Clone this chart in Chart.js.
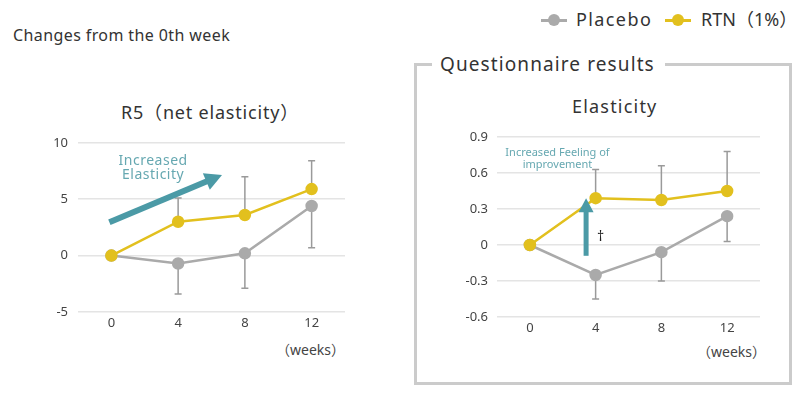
<!DOCTYPE html>
<html>
<head>
<meta charset="utf-8">
<script src="https://cdn.jsdelivr.net/npm/chart.js@4.4.1/dist/chart.umd.min.js"></script>
<style>
  body { margin: 0; background: #fff; font-family: "Noto Sans", "Noto Sans CJK JP", sans-serif; color: #333; }
  #page { position: relative; width: 800px; height: 393px; overflow: hidden; }
  .abs { position: absolute; white-space: nowrap; line-height: 1; }
  #caption { left: 13px; top: 27px; font-size: 16px; letter-spacing: 0.4px; color: #333; }
  .leg { font-size: 18px; color: #333; top: 10px; }
  .mark { position: absolute; width: 26px; height: 12px; top: 14px; }
  .mark::before { content: ""; position: absolute; left: 0; right: 0; top: 5px; height: 3px; background: var(--c); }
  .mark::after { content: ""; position: absolute; left: 7px; top: 0; width: 12px; height: 12px; border-radius: 50%; background: var(--c); }
  #box { left: 414px; top: 63px; width: 378px; height: 322px; border: 3px solid #cbcbcb; box-sizing: border-box; }
  #boxTitle { left: 432px; top: 55px; font-size: 19px; letter-spacing: 1.1px; background: #fff; padding: 0 10px 0 8px; color: #333; }
  .title { font-size: 18px; color: #333; }
  .weeks { font-size: 14px; color: #444; }
  canvas { position: absolute; }
</style>
</head>
<body>
<div id="page">
  <div id="caption" class="abs">Changes from the 0th week</div>
  <span class="mark" style="--c:#aaaaaa; left:541px;"></span>
  <span class="abs leg" style="left:576px; letter-spacing:1.4px;">Placebo</span>
  <span class="mark" style="--c:#e2c01e; left:665px;"></span>
  <span class="abs leg" style="left:701px;">RTN（1%）</span>
  <div id="box" class="abs"></div>
  <div id="boxTitle" class="abs">Questionnaire results</div>
  <div class="abs title" style="left:121px; top:103px; letter-spacing:0.8px;">R5（net elasticity）</div>
  <div class="abs title" style="left:572px; top:97px; letter-spacing:1.2px;">Elasticity</div>
  <div class="abs weeks" style="left:276px; top:343px;">（weeks）</div>
  <div class="abs weeks" style="left:697px; top:345px;">（weeks）</div>
  <canvas id="r5" width="400" height="240" style="left:0; top:125px;"></canvas>
  <canvas id="el" width="370" height="250" style="left:420px; top:115px;"></canvas>
</div>
<script>
var weeks = [0, 4, 8, 12];

// R5 (net elasticity)
var r5Placebo = [0, -0.7, 0.2, 4.4];
var r5PlaceboLow = [0, -3.4, -2.9, 0.7];
var r5Rtn = [0, 3.0, 3.6, 5.9];
var r5RtnHigh = [0, 5.1, 7.0, 8.4];
var r5Ticks = [-5, 0, 5, 10];

// Elasticity (questionnaire)
var elPlacebo = [0, -0.25, -0.06, 0.24];
var elPlaceboLow = [0, -0.45, -0.30, 0.03];
var elRtn = [0, 0.39, 0.375, 0.45];
var elRtnHigh = [0, 0.63, 0.66, 0.78];
var elTicks = [-0.6, -0.3, 0, 0.3, 0.6, 0.9];

var grayCol = '#aaaaaa';
var yellowCol = '#e2c01e';
var barCol = '#9a9a9a';
var arrowCol = '#4b9aa6';
var noteCol = '#66a8b1';
var font = '"Noto Sans", "Noto Sans CJK JP", sans-serif';

function pts(vals) {
  return weeks.map(function (w, i) { return { x: w, y: vals[i] }; });
}

function drawArrow(ctx, x1, y1, x2, y2, shaft, headW, headL) {
  var a = Math.atan2(y2 - y1, x2 - x1);
  var bx = x2 - Math.cos(a) * headL, by = y2 - Math.sin(a) * headL;
  ctx.save();
  ctx.strokeStyle = arrowCol;
  ctx.fillStyle = arrowCol;
  ctx.lineWidth = shaft;
  ctx.beginPath();
  ctx.moveTo(x1, y1);
  ctx.lineTo(bx + Math.cos(a) * 2, by + Math.sin(a) * 2);
  ctx.stroke();
  ctx.beginPath();
  ctx.moveTo(x2, y2);
  ctx.lineTo(bx + Math.sin(a) * headW / 2, by - Math.cos(a) * headW / 2);
  ctx.lineTo(bx - Math.sin(a) * headW / 2, by + Math.cos(a) * headW / 2);
  ctx.closePath();
  ctx.fill();
  ctx.restore();
}

var extras = {
  id: 'extras',
  beforeDatasetsDraw: function (chart, args, opts) {
    var ctx = chart.ctx, xs = chart.scales.x, ys = chart.scales.y;
    ctx.save();
    ctx.strokeStyle = barCol;
    ctx.lineWidth = 1.5;
    opts.bars.forEach(function (b) {
      weeks.forEach(function (w, i) {
        if (b.from[i] === b.to[i]) return;
        var px = xs.getPixelForValue(w);
        var y1 = ys.getPixelForValue(b.from[i]), y2 = ys.getPixelForValue(b.to[i]);
        ctx.beginPath();
        ctx.moveTo(px, y1);
        ctx.lineTo(px, y2);
        ctx.moveTo(px - 3.5, y2);
        ctx.lineTo(px + 3.5, y2);
        ctx.stroke();
      });
    });
    ctx.restore();
  },
  afterDatasetsDraw: function (chart, args, opts) {
    var ctx = chart.ctx, xs = chart.scales.x, ys = chart.scales.y;
    var ar = opts.arrow;
    drawArrow(ctx, xs.getPixelForValue(ar.x1), ys.getPixelForValue(ar.y1),
      xs.getPixelForValue(ar.x2), ys.getPixelForValue(ar.y2), ar.shaft, ar.headW, ar.headL);
    ctx.save();
    ctx.textAlign = 'center';
    ctx.textBaseline = 'middle';
    opts.notes.forEach(function (n) {
      ctx.fillStyle = n.color;
      ctx.font = n.size + 'px ' + font;
      ctx.letterSpacing = (n.ls || 0) + 'px';
      var px = xs.getPixelForValue(n.x), py = ys.getPixelForValue(n.y);
      n.lines.forEach(function (t, k) {
        ctx.fillText(t, px, py + k * n.lh);
      });
    });
    ctx.restore();
  }
};

function makeChart(id, placebo, placeboLow, rtn, rtnHigh, yTicks, yWidth, xHeight, padTop, padRight, ypad, fmt, arrow, notes) {
  return new Chart(document.getElementById(id), {
    type: 'line',
    data: {
      datasets: [
        { label: 'RTN (1%)', data: pts(rtn), borderColor: yellowCol, backgroundColor: yellowCol,
          borderWidth: 2.5, pointRadius: 5, pointHoverRadius: 5, order: 1 },
        { label: 'Placebo', data: pts(placebo), borderColor: grayCol, backgroundColor: grayCol,
          borderWidth: 2.5, pointRadius: 5, pointHoverRadius: 5, order: 2 }
      ]
    },
    options: {
      responsive: false,
      animation: false,
      layout: { padding: { top: padTop, right: padRight, left: 0, bottom: 0 } },
      plugins: {
        legend: { display: false },
        tooltip: { enabled: false },
        extras: {
          bars: [{ from: placebo, to: placeboLow }, { from: rtn, to: rtnHigh }],
          arrow: arrow,
          notes: notes
        }
      },
      scales: {
        x: {
          type: 'linear', min: -2, max: 14,
          afterBuildTicks: function (s) { s.ticks = weeks.map(function (v) { return { value: v }; }); },
          afterFit: function (s) { s.height = xHeight; },
          grid: { display: false, drawTicks: false },
          border: { display: false },
          ticks: { padding: 3, color: '#444', font: { family: font, size: 13 } }
        },
        y: {
          min: yTicks[0], max: yTicks[yTicks.length - 1],
          afterBuildTicks: function (s) { s.ticks = yTicks.map(function (v) { return { value: v }; }); },
          afterFit: function (s) { s.width = yWidth; },
          grid: { color: '#e4e4e4', lineWidth: 1.5, drawTicks: false },
          border: { display: false },
          ticks: { padding: ypad, color: '#444', font: { family: font, size: 13 }, callback: fmt }
        }
      }
    },
    plugins: [extras]
  });
}

makeChart('r5', r5Placebo, r5PlaceboLow, r5Rtn, r5RtnHigh, r5Ticks, 78, 53, 15, 55, 10,
  function (v) { return String(v); },
  { x1: -0.12, y1: 2.96, x2: 6.63, y2: 7.15, shaft: 6, headW: 18, headL: 17 },
  [{ x: 2.5, y: 8.35, lines: ['Increased', 'Elasticity'], lh: 14, size: 14, ls: 0.5, color: noteCol }]
);

makeChart('el', elPlacebo, elPlaceboLow, elRtn, elRtnHigh, elTicks, 77, 48, 22, 30, 9,
  function (v) { return v === 0 ? '0' : v.toFixed(1); },
  { x1: 3.42, y1: -0.09, x2: 3.42, y2: 0.39, shaft: 5, headW: 15, headL: 14 },
  [{ x: 1.68, y: 0.765, lines: ['Increased Feeling of', 'improvement'], lh: 11.5, size: 11, ls: 0, color: noteCol },
   { x: 4.3, y: 0.07, lines: ['†'], lh: 12, size: 14, color: '#222' }]
);
</script>
</body>
</html>
